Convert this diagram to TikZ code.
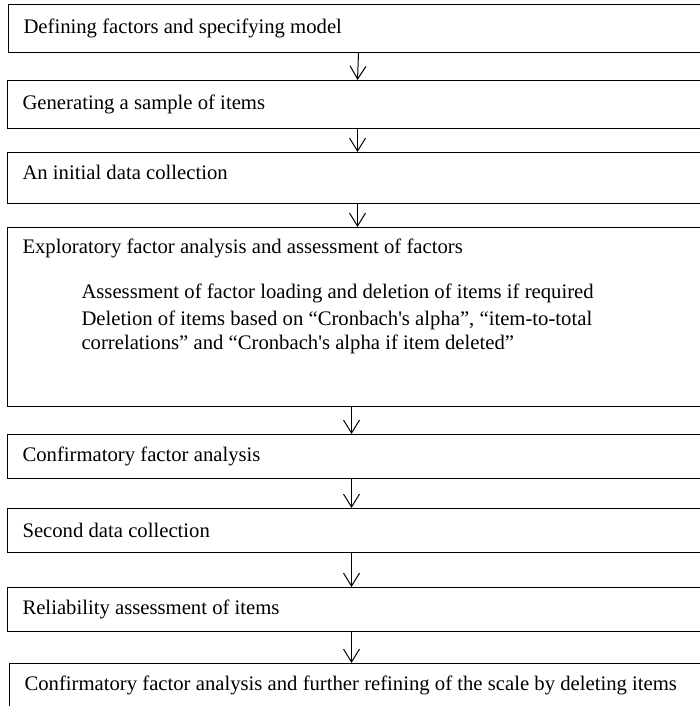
\documentclass[tikz,border=0pt]{standalone}
\usepackage{fontspec}
\setmainfont{Liberation Serif}
\usetikzlibrary{arrows.meta}

\tikzset{
	stepbox/.style={draw, line width=1pt, anchor=north west, minimum width=700pt,
		text width=670pt, inner xsep=15pt, inner ysep=0pt, align=left,
		font=\fontsize{20.7}{23}\selectfont,
		execute at begin node={\spaceskip=0pt\xspaceskip=0pt}},
	flow/.style={-{Straight Barb[length=13pt,width=16pt]}, line width=1pt}
}

\begin{document}
\begin{tikzpicture}[x=1pt,y=-1pt]
		\useasboundingbox (0,0) rectangle (699,706);

		\node[stepbox, minimum height=48pt] (define) at (8,4) {Defining factors and specifying model};
		\node[stepbox, minimum height=48pt] (items) at (7,80) {Generating a sample of items};
		\node[stepbox, minimum height=51pt, text depth=12pt] (collect) at (7,152) {An initial data collection};
		\node[stepbox, minimum height=179pt] (efa) at (7,227) {%
			\begin{minipage}[c][179pt][t]{670pt}
				\raggedright\spaceskip=0pt\xspaceskip=0pt
				\vspace*{11pt}
				Exploratory factor analysis and assessment of factors\\[22pt]
				\hspace*{59pt}Assessment of factor loading and deletion of items if required\\[4pt]
				\hspace*{59pt}Deletion of items based on ``Cronbach\textquotesingle s alpha'', ``item-to-total\\[1pt]
				\hspace*{59pt}correlations'' and ``Cronbach\textquotesingle s alpha if item deleted''
			\end{minipage}};
		\node[stepbox, minimum height=44pt] (cfa) at (7,434) {Confirmatory factor analysis};
		\node[stepbox, minimum height=44pt] (second) at (7,508) {Second data collection};
		\node[stepbox, minimum height=44pt] (reliab) at (7,587) {Reliability assessment of items};
		\node[stepbox, minimum height=44pt, text width=700pt] (refine) at (9,663) {Confirmatory factor analysis and further refining of the scale by deleting items};

		\draw[flow] (define.south) -- (items.north);
		\draw[flow] (items.south) -- (collect.north);
		\draw[flow] (collect.south) -- (efa.north);
		\draw[flow] ([xshift=-6pt]efa.south) -- ([xshift=-6pt]cfa.north);
		\draw[flow] ([xshift=-6pt]cfa.south) -- ([xshift=-6pt]second.north);
		\draw[flow] ([xshift=-6pt]second.south) -- ([xshift=-6pt]reliab.north);
		\draw[flow] ([xshift=-6pt]reliab.south) -- ([xshift=-6pt]reliab.south |- refine.north);
	\end{tikzpicture}
\end{document}
